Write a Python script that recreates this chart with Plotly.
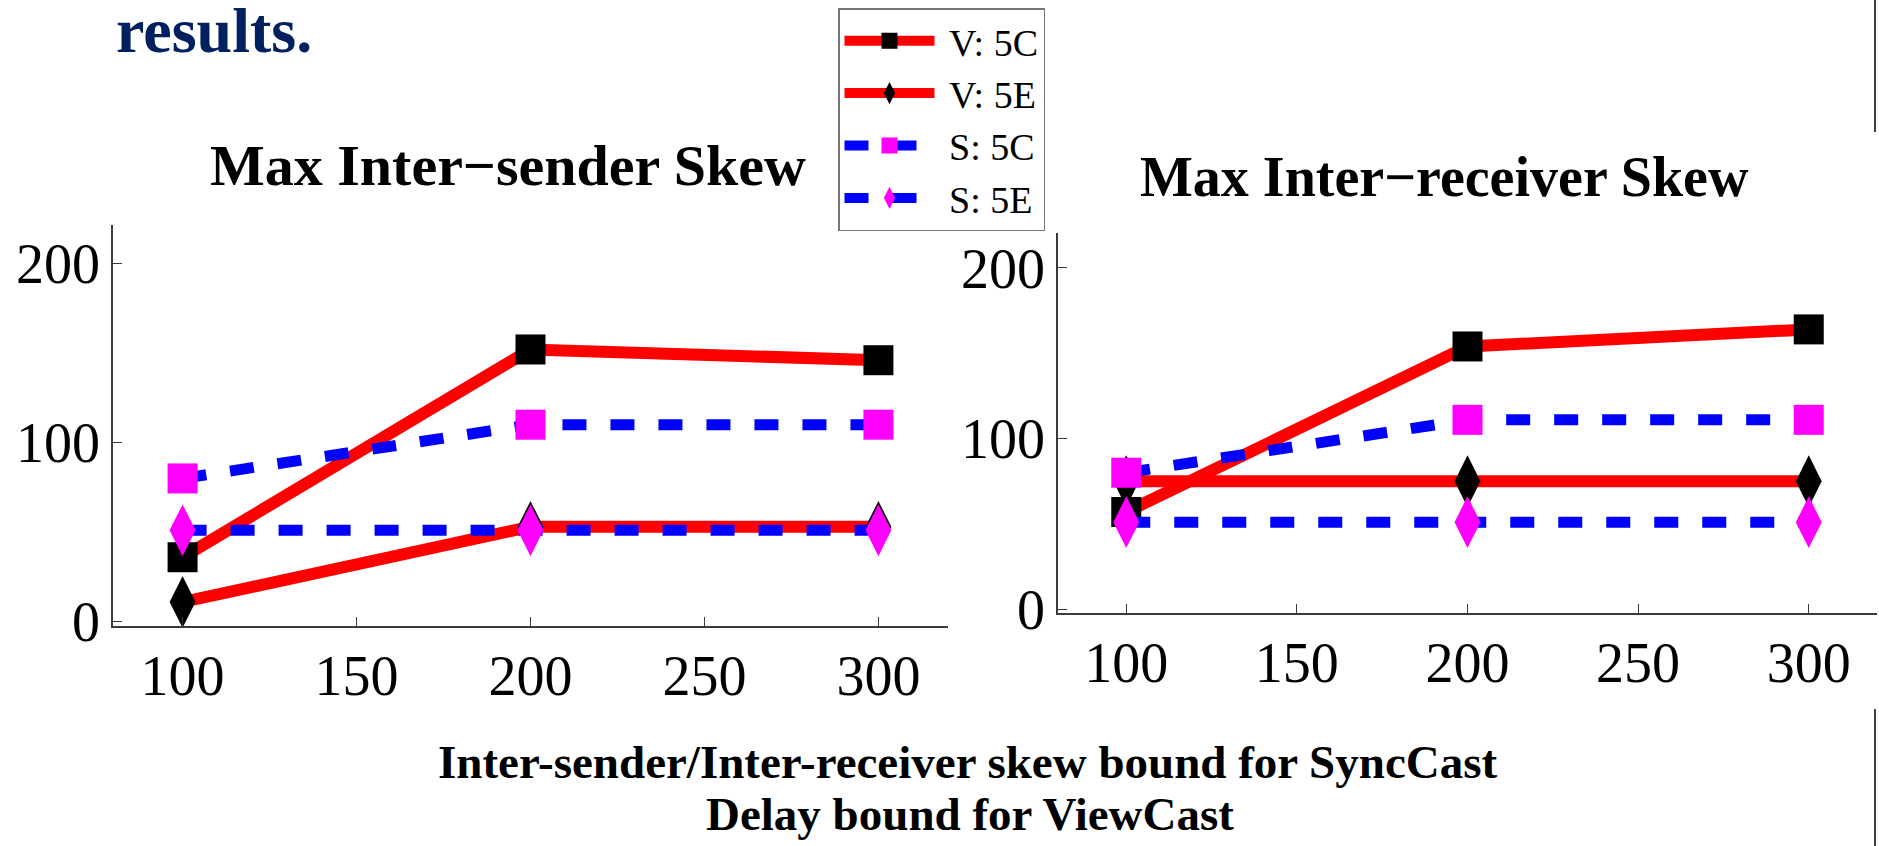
import plotly.graph_objects as go

# x values (bound, ms) shared by both panels
bounds = [100, 200, 300]

# Max inter-sender skew (left panel)
sender_v5c = [36, 152, 146]
sender_v5e = [11, 53, 53]
sender_s5c = [80, 110, 110]
sender_s5e = [51, 51, 51]

# Max inter-receiver skew (right panel)
receiver_v5c = [57, 154, 164]
receiver_v5e = [75, 75, 75]
receiver_s5c = [80, 111, 111]
receiver_s5e = [51, 51, 51]

series_names = ['V: 5C', 'V: 5E', 'S: 5C', 'S: 5E']
x_ticks = [100, 150, 200, 250, 300]
y_ticks = [0, 100, 200]

W, H = 1879, 846
SERIF = 'Liberation Serif'

styles = [
    dict(line=dict(color='#ff0000', width=12), marker=dict(symbol='square', size=30, color='black')),
    dict(line=dict(color='#ff0000', width=12), marker=dict(symbol='diamond-tall', size=37, color='black')),
    dict(line=dict(color='#0000ff', width=11, dash='24px,24px'), marker=dict(symbol='square', size=30, color='#ff00ff')),
    dict(line=dict(color='#0000ff', width=11, dash='24px,24px'), marker=dict(symbol='diamond-tall', size=37, color='#ff00ff')),
]

fig = go.Figure()

panels = [
    ([sender_v5c, sender_v5e, sender_s5c, sender_s5e], 'x', 'y', True),
    ([receiver_v5c, receiver_v5e, receiver_s5c, receiver_s5e], 'x2', 'y2', False),
]
for values, xa, ya, legend_on in panels:
    for name, vals, st in zip(series_names, values, styles):
        fig.add_trace(go.Scatter(
            x=bounds, y=vals, name='\u00a0' + name, mode='lines+markers',
            line=st['line'], marker=dict(**st['marker'], line=dict(width=0)),
            xaxis=xa, yaxis=ya, legendgroup=name, showlegend=legend_on,
            hoverinfo='skip'))

# automargin off, otherwise the plot area gets squeezed vertically
axis_common = dict(showgrid=False, zeroline=False, showline=True, linecolor='#3a3a3a',
                   linewidth=1.5, ticks='inside', ticklen=9, tickwidth=1.2, tickcolor='#3a3a3a',
                   automargin=False,
                   tickfont=dict(family=SERIF, size=56, color='black'))

def px_x(v):
    return v / W

def px_y(v):
    return 1 - v / H

fig.update_layout(
    width=W, height=H, autosize=False,
    margin=dict(l=0, r=0, t=0, b=0, pad=0),
    paper_bgcolor='white', plot_bgcolor='white',
    xaxis=dict(domain=[px_x(113), px_x(948)], range=[80, 320], tickvals=x_ticks,
               anchor='y', **axis_common),
    yaxis=dict(domain=[px_y(626), px_y(225)], range=[-2.4, 221.5], tickvals=y_ticks,
               anchor='x', **axis_common),
    xaxis2=dict(domain=[px_x(1058), px_x(1877)], range=[80, 320], tickvals=x_ticks,
                anchor='y2', **axis_common),
    yaxis2=dict(domain=[px_y(613), px_y(233)], range=[-2.2, 220.5], tickvals=y_ticks,
                anchor='x2', **axis_common),
    legend=dict(x=px_x(838), y=px_y(8), xanchor='left', yanchor='top',
                bordercolor='#777777', borderwidth=1.5, bgcolor='white',
                font=dict(family=SERIF, size=38, color='black'),
                itemwidth=90, traceorder='normal', tracegroupgap=0),
    showlegend=True,
)

# panel titles, slide heading fragment and the slide caption
texts = [
    ('results.', 214, 31, 64, '#002060'),
    ('Max Inter\u2212sender Skew', 508, 165, 58, 'black'),
    ('Max Inter\u2212receiver Skew', 1444, 177, 56, 'black'),
    ('Inter-sender/Inter-receiver skew bound for SyncCast', 968, 762, 47, 'black'),
    ('Delay bound for ViewCast', 970, 814, 47, 'black'),
]
for txt, cx, cy, size, color in texts:
    fig.add_annotation(text=txt, xref='paper', yref='paper', x=px_x(cx), y=px_y(cy),
                       xanchor='center', yanchor='middle', showarrow=False,
                       font=dict(family=SERIF, size=size, color=color, weight='bold'))

# slide border fragments at the right edge
for y0, y1 in [(0, 132), (709, 846)]:
    fig.add_shape(type='line', xref='paper', yref='paper',
                  x0=px_x(1875), x1=px_x(1875), y0=px_y(y0), y1=px_y(y1),
                  line=dict(color='black', width=1.5))

fig.write_html('out.html', config={'displayModeBar': False},
               post_script="document.body.style.margin='0';document.body.style.overflow='hidden';")
